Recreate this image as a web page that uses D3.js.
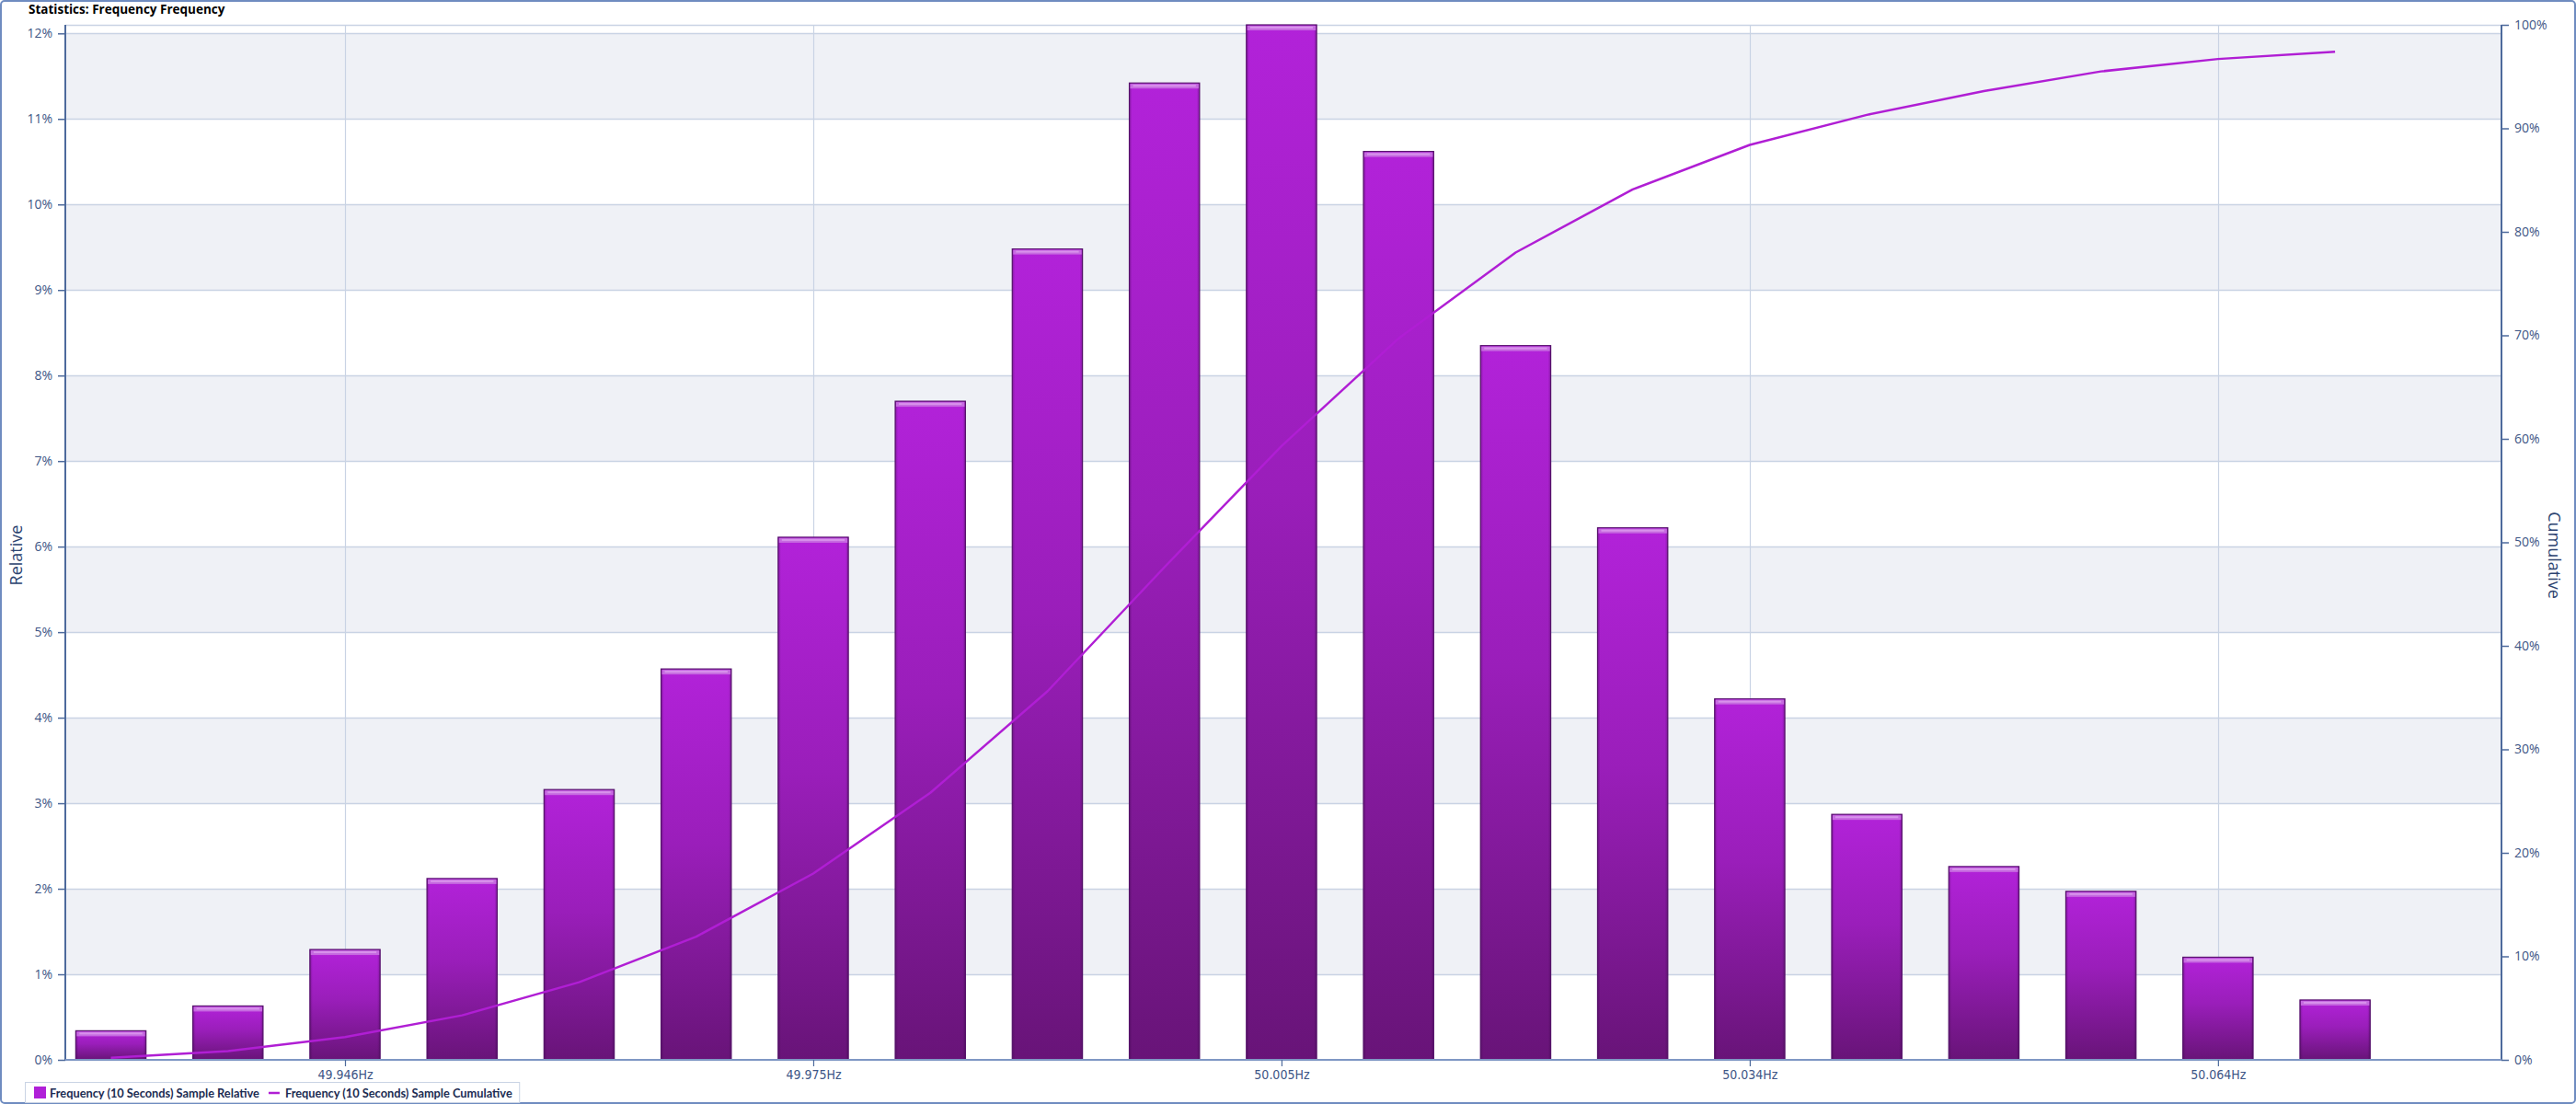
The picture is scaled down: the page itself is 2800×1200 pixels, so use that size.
<!DOCTYPE html>
<html>
<head>
<meta charset="utf-8">
<script src="https://cdn.jsdelivr.net/npm/d3@7"></script>
<style>
  html, body { margin: 0; padding: 0; background: #ffffff; }
  svg { display: block; }
</style>
</head>
<body>
<svg id="chart" width="2800" height="1200"></svg>
<script>
// ---------------- DATA ----------------
const title = "Statistics: Frequency Frequency";
const binCenters = [49.93125, 49.938625, 49.946, 49.953375, 49.96075, 49.968125, 49.9755, 49.982875,
  49.99025, 49.997625, 50.005, 50.012375, 50.01975, 50.027125, 50.0345, 50.041875, 50.04925, 50.056625,
  50.064, 50.071375];
const relativeValues = [0.34, 0.63, 1.29, 2.12, 3.16, 4.57, 6.11, 7.70, 9.48, 11.42, 12.10, 10.62, 8.35,
  6.22, 4.22, 2.87, 2.26, 1.97, 1.20, 0.70];
const cumulativeValues = [0.2, 0.85, 2.2, 4.3, 7.5, 11.9, 18.0, 25.8, 35.6, 47.6, 59.3, 69.7, 78.0, 84.1,
  88.4, 91.3, 93.6, 95.5, 96.7, 97.4];
const xTickValues = [49.946, 49.9755, 50.005, 50.0345, 50.064];
const xTickLabels = ["49.946Hz", "49.975Hz", "50.005Hz", "50.034Hz", "50.064Hz"];
const leftTicks = [0, 1, 2, 3, 4, 5, 6, 7, 8, 9, 10, 11, 12];
const rightTicks = [0, 10, 20, 30, 40, 50, 60, 70, 80, 90, 100];
const seriesNames = ["Frequency (10 Seconds) Sample Relative", "Frequency (10 Seconds) Sample Cumulative"];
const xDomain = [49.92838, 50.08186];

// ---------------- LAYOUT ----------------
const W = 2800, H = 1200;
const plot = { left: 71, right: 2719, top: 27, bottom: 1152 };
const svg = d3.select("#chart");
const fontMain = "'Open Sans', 'Noto Sans', 'DejaVu Sans', sans-serif";
const axisColor = "#4d6a9c";
const labelColor = "#3e5686";
const gridColor = "#c9d3e4";
const bandColor = "#eff1f6";

const x = d3.scaleLinear().domain(xDomain).range([plot.left, plot.right]);
const yL = d3.scaleLinear().domain([0, d3.max(relativeValues)]).range([plot.bottom, plot.top]);
const yR = d3.scaleLinear().domain([0, 100]).range([plot.bottom, plot.top]);

// defs
const defs = svg.append("defs");
const grad = defs.append("linearGradient").attr("id", "barGrad")
  .attr("x1", 0).attr("y1", 0).attr("x2", 0).attr("y2", 1);
grad.append("stop").attr("offset", "0%").attr("stop-color", "#b222d9");
grad.append("stop").attr("offset", "45%").attr("stop-color", "#9a1eba");
grad.append("stop").attr("offset", "100%").attr("stop-color", "#681478");
const edgeGrad = defs.append("linearGradient").attr("id", "edgeGrad")
  .attr("x1", 0).attr("y1", 0).attr("x2", 1).attr("y2", 0);
edgeGrad.append("stop").attr("offset", "0%").attr("stop-color", "#3a0848").attr("stop-opacity", 0.35);
edgeGrad.append("stop").attr("offset", "4%").attr("stop-color", "#3a0848").attr("stop-opacity", 0);
edgeGrad.append("stop").attr("offset", "96%").attr("stop-color", "#3a0848").attr("stop-opacity", 0);
edgeGrad.append("stop").attr("offset", "100%").attr("stop-color", "#3a0848").attr("stop-opacity", 0.35);

// outer frame
svg.append("rect").attr("x", 1).attr("y", 1).attr("width", W - 2).attr("height", H - 2)
  .attr("rx", 4).attr("fill", "#ffffff").attr("stroke", "#6f8cc0").attr("stroke-width", 2);

// title
svg.append("text").attr("x", 31).attr("y", 15).attr("font-family", fontMain)
  .attr("font-size", 13.5).attr("font-weight", "bold").attr("fill", "#000")
  .text(title);

// bands (alternate shading between left ticks)
const bandPairs = [];
for (let i = 0; i < leftTicks.length - 1; i++) bandPairs.push([leftTicks[i], leftTicks[i + 1]]);
svg.append("g").selectAll("rect").data(bandPairs.filter((d, i) => i % 2 === 1)).join("rect")
  .attr("x", plot.left).attr("width", plot.right - plot.left)
  .attr("y", d => yL(d[1])).attr("height", d => yL(d[0]) - yL(d[1]))
  .attr("fill", bandColor);

// horizontal gridlines
const gridG = svg.append("g");
gridG.selectAll("line.h").data(leftTicks.concat([d3.max(relativeValues)])).join("line")
  .attr("x1", plot.left).attr("x2", plot.right)
  .attr("y1", d => Math.round(yL(d)) + 0.5).attr("y2", d => Math.round(yL(d)) + 0.5)
  .attr("stroke", gridColor).attr("stroke-width", 1.5);
// vertical gridlines
gridG.selectAll("line.v").data(xTickValues).join("line")
  .attr("y1", plot.top).attr("y2", plot.bottom)
  .attr("x1", d => Math.round(x(d)) + 0.5).attr("x2", d => Math.round(x(d)) + 0.5)
  .attr("stroke", gridColor).attr("stroke-width", 1.2);

// bars
const binW = x(binCenters[1]) - x(binCenters[0]);
const barW = binW * 0.6;
const bars = svg.append("g").selectAll("g").data(relativeValues).join("g")
  .attr("transform", (d, i) => `translate(${x(binCenters[i]) - barW / 2},${yL(d)})`);
bars.append("rect").attr("width", barW).attr("height", d => plot.bottom - yL(d))
  .attr("fill", "url(#barGrad)").attr("stroke", "#5a1470").attr("stroke-width", 1.2);
bars.append("rect").attr("width", barW).attr("height", d => plot.bottom - yL(d))
  .attr("fill", "url(#edgeGrad)");
bars.append("rect").attr("x", 1).attr("y", 1).attr("width", barW - 2).attr("height", 5)
  .attr("fill", "#c66ae0");
bars.append("rect").attr("x", 4).attr("y", 2).attr("width", barW - 8).attr("height", 2)
  .attr("fill", "#dc9cee").attr("opacity", 0.8);

// cumulative line
const line = d3.line().x((d, i) => x(binCenters[i])).y(d => yR(d));
svg.append("path").datum(cumulativeValues).attr("d", line)
  .attr("fill", "none").attr("stroke", "#b01ed4").attr("stroke-width", 2.5)
  .attr("stroke-linejoin", "round");

// left axis
const leftAxis = d3.axisLeft(yL).tickValues(leftTicks).tickFormat(d => d + "%").tickSize(8).tickPadding(6);
const gL = svg.append("g").attr("transform", `translate(${plot.left},0)`).call(leftAxis);
// right axis
const rightAxis = d3.axisRight(yR).tickValues(rightTicks).tickFormat(d => d + "%").tickSize(8).tickPadding(6);
const gR = svg.append("g").attr("transform", `translate(${plot.right},0)`).call(rightAxis);
[gL, gR].forEach(g => {
  g.select(".domain").attr("stroke", axisColor).attr("stroke-width", 2)
    .attr("d", `M0,${plot.top}V${plot.bottom}`);
  g.selectAll(".tick line").attr("stroke", axisColor).attr("stroke-width", 1.5);
  g.selectAll(".tick text").attr("fill", labelColor).attr("font-family", fontMain).attr("font-size", 14);
});
// bottom axis
const bottomAxis = d3.axisBottom(x).tickValues(xTickValues)
  .tickFormat((d, i) => xTickLabels[i]).tickSize(7).tickPadding(4);
const gB = svg.append("g").attr("transform", `translate(0,${plot.bottom})`).call(bottomAxis);
gB.select(".domain").attr("stroke", "#7f98c4").attr("stroke-width", 2)
  .attr("d", `M${plot.left},0H${plot.right}`);
gB.selectAll(".tick line").attr("stroke", axisColor).attr("stroke-width", 1.2);
gB.selectAll(".tick text").attr("fill", labelColor)
  .attr("font-family", "'Liberation Sans Narrow', 'DejaVu Sans Condensed', sans-serif")
  .attr("font-size", 14);

// axis titles
svg.append("text").attr("transform", `translate(24,${(plot.top + plot.bottom) / 2 + 14}) rotate(-90)`)
  .attr("text-anchor", "middle").attr("font-family", fontMain).attr("font-size", 18)
  .attr("fill", "#2c4370").text("Relative");
svg.append("text").attr("transform", `translate(2770,${(plot.top + plot.bottom) / 2 + 14}) rotate(90)`)
  .attr("text-anchor", "middle").attr("font-family", fontMain).attr("font-size", 18)
  .attr("fill", "#2c4370").text("Cumulative");

// legend
const legendFont = "Lato, 'Open Sans', sans-serif";
const lg = svg.append("g");
const box = lg.append("rect").attr("x", 27.5).attr("y", 1176.5).attr("height", 22)
  .attr("fill", "#fff").attr("stroke", "#c9d3e4").attr("stroke-width", 1);
lg.append("rect").attr("x", 37).attr("y", 1181).attr("width", 13).attr("height", 13).attr("fill", "#b020d8");
const t1 = lg.append("text").attr("x", 54).attr("y", 1192.5).attr("font-family", legendFont)
  .attr("font-size", 12.8).attr("font-weight", "bold").attr("fill", "#1c2c52").text(seriesNames[0]);
const w1 = t1.node().getComputedTextLength();
lg.append("line").attr("x1", 54 + w1 + 10).attr("x2", 54 + w1 + 22).attr("y1", 1188).attr("y2", 1188)
  .attr("stroke", "#b01ed4").attr("stroke-width", 2.5);
const t2 = lg.append("text").attr("x", 54 + w1 + 28).attr("y", 1192.5).attr("font-family", legendFont)
  .attr("font-size", 12.8).attr("font-weight", "bold").attr("fill", "#1c2c52").text(seriesNames[1]);
const w2 = t2.node().getComputedTextLength();
box.attr("width", 54 + w1 + 28 + w2 + 8 - 27.5);
</script>
</body>
</html>
